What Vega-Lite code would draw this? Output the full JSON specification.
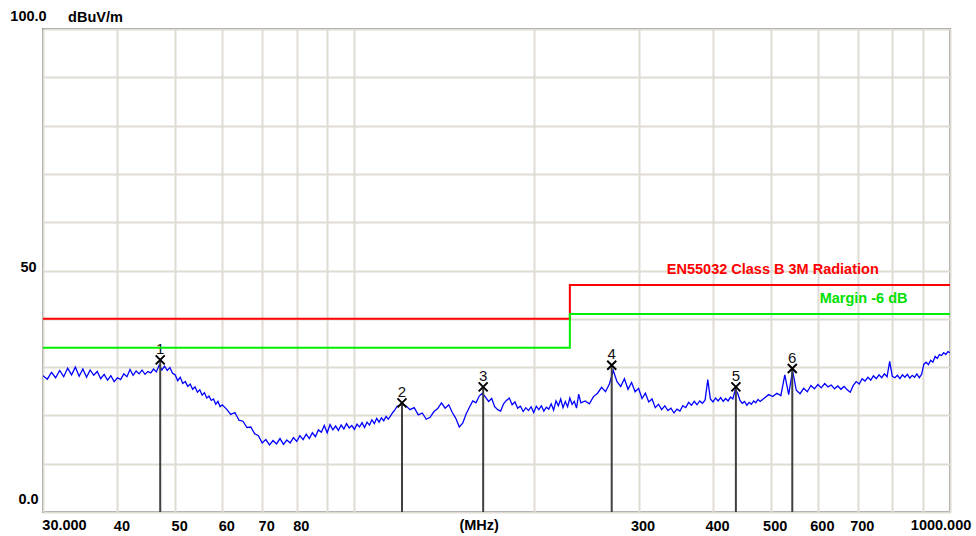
{
  "$schema": "https://vega.github.io/schema/vega-lite/v6.json",
  "width": 907,
  "height": 483,
  "autosize": {"type": "none"},
  "padding": {"left": 43, "top": 29, "right": 26, "bottom": 24},
  "background": "white",
  "config": {
    "view": {"stroke": "#8c8c8c", "strokeWidth": 2},
    "font": "Liberation Sans"
  },
  "datasets": {
    "trace": [
      {"f":30,"v":28.2},{"f":30.5,"v":27.5},{"f":31,"v":28.9},{"f":31.5,"v":27.8},{"f":32,"v":29.3},{"f":32.5,"v":28.0},{"f":33,"v":29.8},{"f":33.5,"v":28.4},{"f":34,"v":30.0},{"f":34.5,"v":28.1},
      {"f":35,"v":29.6},{"f":35.5,"v":27.9},{"f":36,"v":29.4},{"f":36.5,"v":28.3},{"f":37,"v":29.1},{"f":37.5,"v":27.6},{"f":38,"v":28.5},{"f":38.5,"v":27.3},{"f":39,"v":28.2},{"f":39.5,"v":27.0},
      {"f":40,"v":27.8},{"f":40.5,"v":27.4},{"f":41,"v":28.6},{"f":41.5,"v":28.0},{"f":42,"v":29.5},{"f":42.5,"v":28.3},{"f":43,"v":29.2},{"f":43.5,"v":28.6},{"f":44,"v":29.4},{"f":44.5,"v":28.5},
      {"f":45,"v":29.1},{"f":45.5,"v":28.8},{"f":46,"v":29.6},{"f":46.5,"v":29.0},{"f":47,"v":30.4},{"f":47.5,"v":29.4},{"f":48,"v":30.2},{"f":48.5,"v":29.3},{"f":49,"v":29.9},{"f":49.5,"v":28.7},
      {"f":50,"v":28.4},{"f":50.5,"v":27.2},{"f":51,"v":27.9},{"f":51.5,"v":26.6},{"f":52,"v":27.0},{"f":52.5,"v":26.0},{"f":53,"v":26.5},{"f":53.5,"v":25.4},{"f":54,"v":25.9},{"f":54.5,"v":24.8},
      {"f":55,"v":25.3},{"f":55.5,"v":24.2},{"f":56,"v":24.7},{"f":56.5,"v":23.6},{"f":57,"v":24.0},{"f":57.5,"v":23.1},{"f":58,"v":23.4},{"f":58.5,"v":22.3},{"f":59,"v":22.9},{"f":59.5,"v":21.8},
      {"f":60,"v":22.2},{"f":61,"v":21.3},{"f":62,"v":20.2},{"f":63,"v":20.6},{"f":64,"v":19.0},{"f":65,"v":18.8},{"f":66,"v":17.5},{"f":67,"v":17.6},{"f":68,"v":16.2},{"f":69,"v":15.8},
      {"f":70,"v":14.3},{"f":71,"v":15.0},{"f":72,"v":13.9},{"f":73,"v":14.8},{"f":74,"v":14.1},{"f":75,"v":15.2},{"f":76,"v":14.0},{"f":77,"v":14.9},{"f":78,"v":14.3},{"f":79,"v":15.4},
      {"f":80,"v":14.6},{"f":81,"v":15.8},{"f":82,"v":15.0},{"f":83,"v":16.1},{"f":84,"v":15.2},{"f":85,"v":16.4},{"f":86,"v":15.6},{"f":87,"v":17.0},{"f":88,"v":16.5},{"f":89,"v":17.9},
      {"f":90,"v":16.4},{"f":91,"v":18.1},{"f":92,"v":17.0},{"f":93,"v":17.8},{"f":94,"v":16.9},{"f":95,"v":18.0},{"f":96,"v":17.2},{"f":97,"v":18.3},{"f":98,"v":17.4},{"f":99,"v":17.9},
      {"f":100,"v":17.1},{"f":101,"v":18.2},{"f":102,"v":17.6},{"f":103,"v":18.5},{"f":104,"v":17.5},{"f":105,"v":18.6},{"f":106,"v":18.0},{"f":107,"v":19.1},{"f":108,"v":18.3},{"f":109,"v":19.4},
      {"f":110,"v":18.6},{"f":111,"v":19.5},{"f":112,"v":18.9},{"f":113,"v":19.8},{"f":114,"v":19.2},{"f":115,"v":19.9},{"f":116,"v":20.6},{"f":117,"v":21.2},{"f":118,"v":21.9},{"f":119,"v":22.0},
      {"f":120,"v":22.4},{"f":122,"v":22.0},{"f":124,"v":21.2},{"f":126,"v":21.6},{"f":128,"v":20.1},{"f":130,"v":20.5},{"f":132,"v":19.2},{"f":134,"v":19.6},{"f":136,"v":20.8},{"f":138,"v":21.4},
      {"f":140,"v":22.6},{"f":142,"v":21.5},{"f":144,"v":22.2},{"f":146,"v":20.6},{"f":148,"v":19.4},{"f":150,"v":17.6},{"f":152,"v":18.4},{"f":154,"v":20.3},{"f":156,"v":21.7},{"f":158,"v":23.0},
      {"f":160,"v":22.6},{"f":162,"v":24.0},{"f":164,"v":24.6},{"f":166,"v":23.8},{"f":168,"v":22.9},{"f":170,"v":23.5},{"f":172,"v":21.8},{"f":174,"v":21.2},{"f":176,"v":20.9},{"f":178,"v":22.4},
      {"f":180,"v":23.1},{"f":182,"v":23.6},{"f":184,"v":22.2},{"f":186,"v":22.8},{"f":188,"v":21.5},{"f":190,"v":21.9},{"f":192,"v":20.8},{"f":194,"v":21.6},{"f":196,"v":21.0},{"f":198,"v":21.8},
      {"f":200,"v":20.6},{"f":202,"v":21.9},{"f":204,"v":21.2},{"f":206,"v":22.0},{"f":208,"v":20.9},{"f":210,"v":21.7},{"f":212,"v":21.3},{"f":214,"v":22.4},{"f":216,"v":21.1},{"f":218,"v":23.0},
      {"f":220,"v":22.0},{"f":222,"v":23.4},{"f":224,"v":21.6},{"f":226,"v":22.9},{"f":228,"v":21.8},{"f":230,"v":23.6},{"f":232,"v":22.3},{"f":234,"v":22.9},{"f":236,"v":21.5},{"f":238,"v":24.4},
      {"f":240,"v":22.6},{"f":244,"v":23.0},{"f":248,"v":22.4},{"f":252,"v":23.9},{"f":256,"v":24.6},{"f":260,"v":25.8},{"f":264,"v":24.9},{"f":268,"v":26.5},{"f":272,"v":29.3},{"f":276,"v":27.0},
      {"f":280,"v":26.0},{"f":284,"v":27.6},{"f":288,"v":25.4},{"f":292,"v":26.8},{"f":296,"v":24.9},{"f":300,"v":25.6},{"f":304,"v":23.5},{"f":308,"v":24.6},{"f":312,"v":22.8},{"f":316,"v":23.4},
      {"f":320,"v":21.6},{"f":324,"v":22.3},{"f":328,"v":21.2},{"f":332,"v":22.0},{"f":336,"v":21.0},{"f":340,"v":21.5},{"f":344,"v":20.5},{"f":348,"v":21.3},{"f":352,"v":20.9},{"f":356,"v":22.0},
      {"f":360,"v":21.6},{"f":364,"v":22.7},{"f":368,"v":22.1},{"f":372,"v":22.9},{"f":376,"v":22.2},{"f":380,"v":23.0},{"f":384,"v":22.5},{"f":388,"v":23.2},{"f":392,"v":27.4},{"f":396,"v":23.4},
      {"f":400,"v":22.8},{"f":404,"v":23.6},{"f":408,"v":23.0},{"f":412,"v":23.7},{"f":416,"v":22.9},{"f":420,"v":23.5},{"f":424,"v":23.0},{"f":428,"v":23.8},{"f":432,"v":23.4},{"f":436,"v":25.4},
      {"f":440,"v":24.6},{"f":444,"v":23.1},{"f":448,"v":22.5},{"f":452,"v":22.9},{"f":456,"v":22.1},{"f":460,"v":22.7},{"f":464,"v":22.3},{"f":468,"v":23.0},{"f":472,"v":22.6},{"f":476,"v":23.3},
      {"f":480,"v":22.9},{"f":488,"v":23.6},{"f":496,"v":24.3},{"f":504,"v":23.9},{"f":512,"v":24.6},{"f":520,"v":24.1},{"f":528,"v":28.4},{"f":536,"v":24.3},{"f":544,"v":29.3},{"f":552,"v":25.2},
      {"f":560,"v":24.5},{"f":568,"v":25.6},{"f":576,"v":24.9},{"f":584,"v":26.2},{"f":592,"v":25.5},{"f":600,"v":26.4},{"f":608,"v":25.7},{"f":616,"v":26.6},{"f":624,"v":25.9},{"f":632,"v":26.3},
      {"f":640,"v":25.5},{"f":648,"v":26.1},{"f":656,"v":25.4},{"f":664,"v":26.0},{"f":672,"v":25.3},{"f":680,"v":24.8},{"f":688,"v":26.2},{"f":696,"v":27.0},{"f":704,"v":26.5},{"f":712,"v":27.6},
      {"f":720,"v":27.1},{"f":728,"v":27.9},{"f":736,"v":27.3},{"f":744,"v":28.2},{"f":752,"v":27.6},{"f":760,"v":28.4},{"f":768,"v":27.8},{"f":776,"v":28.6},{"f":784,"v":28.0},{"f":792,"v":31.2},
      {"f":800,"v":28.1},{"f":808,"v":27.8},{"f":816,"v":28.3},{"f":824,"v":27.6},{"f":832,"v":28.4},{"f":840,"v":27.9},{"f":848,"v":28.5},{"f":856,"v":27.7},{"f":864,"v":28.3},{"f":872,"v":27.9},
      {"f":880,"v":28.6},{"f":888,"v":27.8},{"f":896,"v":28.5},{"f":904,"v":30.6},{"f":912,"v":31.0},{"f":920,"v":30.5},{"f":928,"v":31.4},{"f":936,"v":31.0},{"f":944,"v":32.2},{"f":952,"v":31.8},
      {"f":960,"v":32.6},{"f":968,"v":32.4},{"f":976,"v":33.0},{"f":984,"v":32.6},{"f":992,"v":33.2},{"f":1000,"v":33.0}
    ],
    "limits": [
      {"f": 30, "red": 40, "green": 34},
      {"f": 230, "red": 47, "green": 41},
      {"f": 1000, "red": 47, "green": 41}
    ],
    "markers": [
      {"n": "1", "f": 47.2, "v": 31.5, "lo": 0},
      {"n": "2", "f": 120.2, "v": 22.6, "lo": 0},
      {"n": "3", "f": 164.5, "v": 25.9, "lo": 0},
      {"n": "4", "f": 270.4, "v": 30.4, "lo": 0},
      {"n": "5", "f": 437, "v": 25.9, "lo": 0},
      {"n": "6", "f": 543.5, "v": 29.7, "lo": 0}
    ],
    "notes": [
      {"k": "limit", "f": 504, "v": 49.3, "t": "EN55032 Class B 3M Radiation"},
      {"k": "margin", "f": 716, "v": 43.2, "t": "Margin -6 dB"}
    ],
    "xlabels": [
      {"f": 32.6, "v": -3.7, "t": "30.000"},
      {"f": 162, "v": -3.7, "t": "(MHz)"},
      {"f": 966, "v": -3.7, "t": "1000.000"}
    ]
  },
  "layer": [
    {
      "data": {"name": "trace"},
      "mark": {"type": "line", "color": "#0000ff", "strokeWidth": 1.3, "clip": true},
      "encoding": {
        "x": {
          "field": "f",
          "type": "quantitative",
          "scale": {"type": "log", "domain": [30, 1000], "nice": false, "zero": false},
          "axis": {
            "title": null,
            "values": [30, 40, 50, 60, 70, 80, 90, 100, 200, 300, 400, 500, 600, 700, 800, 900, 1000],
            "labelExpr": "(datum.value==30||datum.value==1000||datum.value==90||datum.value==100||datum.value==200||datum.value==800||datum.value==900)?'':format(datum.value,'d')",
            "domain": false,
            "ticks": false,
            "grid": true,
            "gridColor": "#e0dcd4",
            "gridWidth": 2,
            "labelFont": "Liberation Sans",
            "labelFontWeight": "bold",
            "labelFontSize": 14.5,
            "labelColor": "#000000",
            "labelBaseline": "alphabetic",
            "labelPadding": 18,
            "labelFlush": false,
            "labelOverlap": false,
            "labelOffset": 4
          }
        },
        "y": {
          "field": "v",
          "type": "quantitative",
          "scale": {"domain": [0, 100], "nice": false, "zero": false},
          "axis": {
            "title": "dBuV/m",
            "titleAngle": 0,
            "titleX": 52,
            "titleY": -8,
            "titleAlign": "center",
            "titleBaseline": "alphabetic",
            "titleFont": "Liberation Sans",
            "titleFontWeight": "bold",
            "titleFontSize": 14.5,
            "titleColor": "#000000",
            "values": [0, 10, 20, 30, 40, 50, 60, 70, 80, 90, 100],
            "labelExpr": "datum.value==0?'0.0':datum.value==50?'50':datum.value==100?'100.0':''",
            "domain": false,
            "ticks": false,
            "grid": true,
            "gridColor": "#e0dcd4",
            "gridWidth": 2,
            "labelFont": "Liberation Sans",
            "labelFontWeight": "bold",
            "labelFontSize": 14.5,
            "labelColor": "#000000",
            "labelAlign": "center",
            "labelBaseline": "alphabetic",
            "labelPadding": 15,
            "labelOverlap": false,
            "labelOffset": {"condition": {"test": "datum.value==50", "value": 1}, "value": -9}
          }
        }
      }
    },
    {
      "data": {"name": "markers"},
      "mark": {"type": "rule", "color": "#404040", "strokeWidth": 2},
      "encoding": {
        "x": {"field": "f", "type": "quantitative"},
        "y": {"field": "lo", "type": "quantitative"},
        "y2": {"field": "v"}
      }
    },
    {
      "data": {"name": "markers"},
      "mark": {"type": "point", "shape": "M-1,-1L1,1M-1,1L1,-1", "size": 81, "filled": false, "stroke": "#000000", "strokeWidth": 2, "opacity": 1},
      "encoding": {
        "x": {"field": "f", "type": "quantitative"},
        "y": {"field": "v", "type": "quantitative"}
      }
    },
    {
      "data": {"name": "markers"},
      "mark": {"type": "text", "font": "Liberation Sans", "fontSize": 15, "color": "#111111", "align": "center", "baseline": "alphabetic", "dy": -6},
      "encoding": {
        "x": {"field": "f", "type": "quantitative"},
        "y": {"field": "v", "type": "quantitative"},
        "text": {"field": "n", "type": "nominal"}
      }
    },
    {
      "data": {"name": "limits"},
      "mark": {"type": "line", "color": "#ff0000", "strokeWidth": 2, "interpolate": "step-after"},
      "encoding": {
        "x": {"field": "f", "type": "quantitative"},
        "y": {"field": "red", "type": "quantitative"}
      }
    },
    {
      "data": {"name": "limits"},
      "mark": {"type": "line", "color": "#00ee00", "strokeWidth": 2, "interpolate": "step-after"},
      "encoding": {
        "x": {"field": "f", "type": "quantitative"},
        "y": {"field": "green", "type": "quantitative"}
      }
    },
    {
      "data": {"name": "notes"},
      "transform": [{"filter": "datum.k=='limit'"}],
      "mark": {"type": "text", "font": "Liberation Sans", "fontWeight": "bold", "fontSize": 14.5, "color": "#ff0000", "align": "center", "baseline": "alphabetic"},
      "encoding": {
        "x": {"field": "f", "type": "quantitative"},
        "y": {"field": "v", "type": "quantitative"},
        "text": {"field": "t", "type": "nominal"}
      }
    },
    {
      "data": {"name": "notes"},
      "transform": [{"filter": "datum.k=='margin'"}],
      "mark": {"type": "text", "font": "Liberation Sans", "fontWeight": "bold", "fontSize": 14.5, "color": "#00e000", "align": "center", "baseline": "alphabetic"},
      "encoding": {
        "x": {"field": "f", "type": "quantitative"},
        "y": {"field": "v", "type": "quantitative"},
        "text": {"field": "t", "type": "nominal"}
      }
    },
    {
      "data": {"name": "xlabels"},
      "mark": {"type": "text", "font": "Liberation Sans", "fontWeight": "bold", "fontSize": 14.5, "color": "#000000", "align": "center", "baseline": "alphabetic", "clip": false},
      "encoding": {
        "x": {"field": "f", "type": "quantitative"},
        "y": {"field": "v", "type": "quantitative"},
        "text": {"field": "t", "type": "nominal"}
      }
    }
  ]
}
